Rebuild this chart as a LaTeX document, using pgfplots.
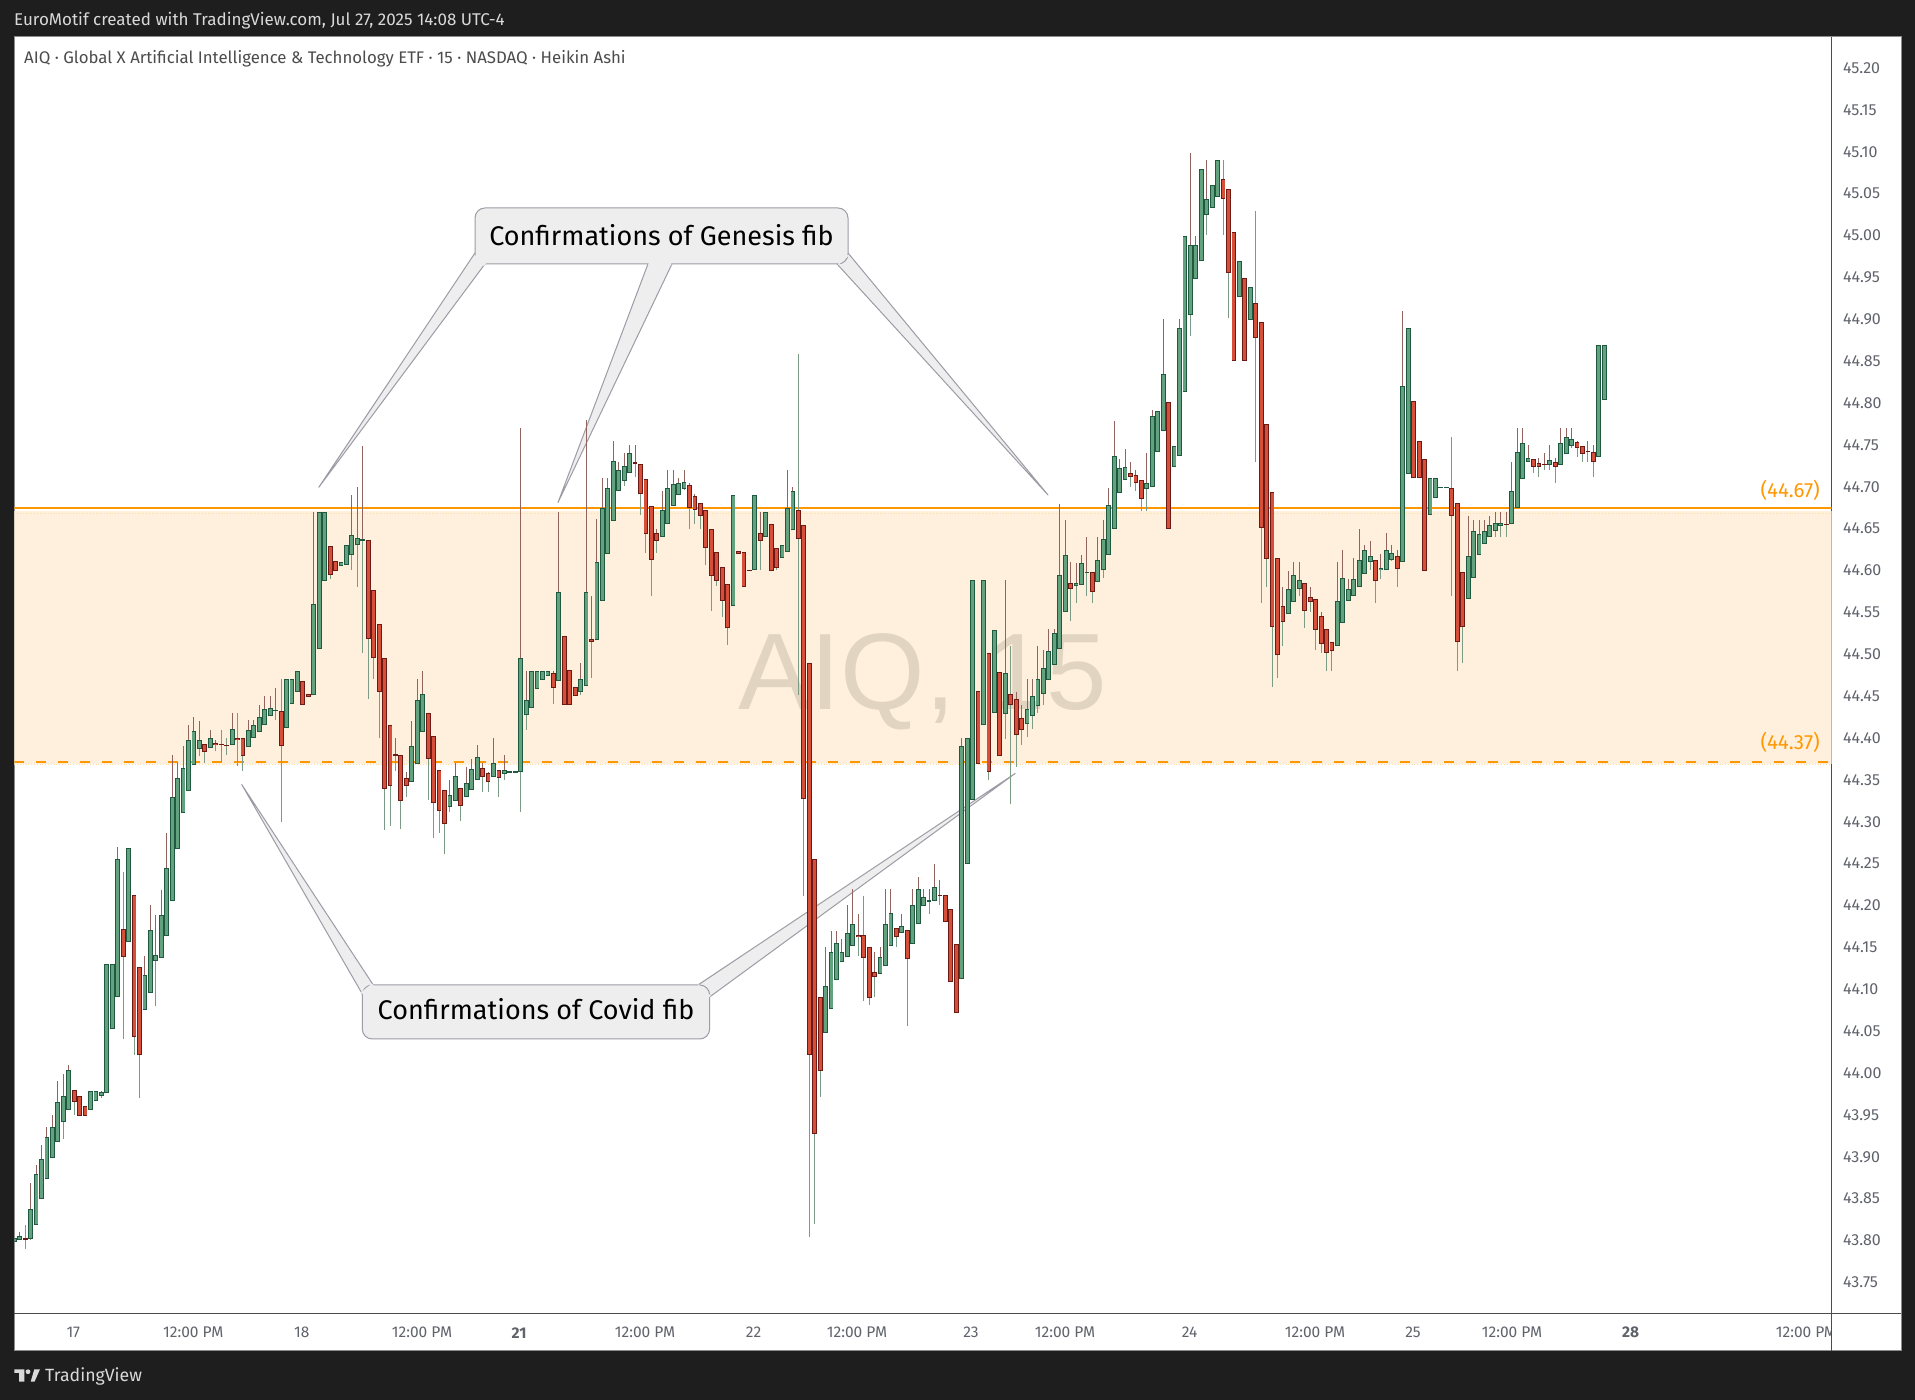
\documentclass[border=0pt]{standalone}
\usepackage{fontspec}
\setmainfont{Fira Sans}
\newfontfamily\wmfont{Liberation Sans}
\usepackage{pgfplots}
\usepackage{pgfplotstable}
\pgfplotsset{compat=1.18}

\definecolor{frame}{HTML}{1E1E1E}
\definecolor{gborder}{HTML}{1F5A40}
\definecolor{gfill}{HTML}{62A27F}
\definecolor{rborder}{HTML}{6E1A14}
\definecolor{rfill}{HTML}{D64F3A}
\definecolor{wbrown}{HTML}{93645F}
\definecolor{wgreen}{HTML}{7C9B87}
\definecolor{zone}{HTML}{FFF0DD}
\definecolor{fib}{HTML}{FF9800}
\definecolor{tick}{HTML}{60636C}
\definecolor{bub}{HTML}{EEEEEE}
\definecolor{bubline}{HTML}{9C9CA6}
\definecolor{wm}{HTML}{E1D4C1}

% i, body low, body high, wick low, wick high
\pgfplotstableread{
i lo hi wl wh
0 43.794 43.799 43.794 43.799
1 43.796 43.801 43.796 43.806
3 43.798 43.833 43.797 43.865
4 43.815 43.875 43.815 43.886
5 43.845 43.893 43.845 43.910
6 43.869 43.919 43.869 43.931
7 43.894 43.932 43.894 43.946
8 43.913 43.961 43.913 43.986
9 43.937 43.968 43.917 43.995
10 43.952 44.000 43.952 44.005
14 43.952 43.975 43.952 43.975
15 43.963 43.975 43.963 43.975
16 43.969 43.973 43.966 43.975
17 43.972 44.126 43.972 44.126
18 44.048 44.126 44.048 44.126
19 44.087 44.251 44.087 44.266
21 44.152 44.265 44.152 44.265
24 44.071 44.113 44.071 44.136
25 44.092 44.167 44.092 44.197
26 44.130 44.137 44.076 44.185
27 44.133 44.185 44.133 44.215
28 44.159 44.241 44.159 44.282
29 44.201 44.325 44.201 44.376
30 44.263 44.348 44.263 44.366
31 44.306 44.360 44.306 44.386
32 44.333 44.393 44.333 44.411
33 44.364 44.404 44.364 44.421
34 44.383 44.394 44.375 44.416
36 44.384 44.396 44.384 44.405
40 44.387 44.407 44.387 44.426
43 44.385 44.405 44.385 44.417
44 44.396 44.411 44.396 44.417
45 44.403 44.421 44.403 44.435
46 44.411 44.431 44.411 44.446
47 44.422 44.432 44.422 44.446
48 44.428 44.429 44.417 44.456
50 44.408 44.466 44.408 44.466
51 44.436 44.466 44.436 44.466
52 44.451 44.476 44.451 44.476
55 44.447 44.556 44.447 44.666
56 44.502 44.666 44.502 44.666
57 44.583 44.666 44.583 44.666
60 44.601 44.606 44.601 44.606
61 44.603 44.626 44.603 44.626
62 44.614 44.638 44.596 44.686
63 44.626 44.635 44.576 44.696
64 44.631 44.633 44.497 44.745
73 44.343 44.386 44.343 44.416
74 44.365 44.441 44.365 44.466
75 44.403 44.448 44.403 44.476
80 44.314 44.328 44.307 44.346
81 44.321 44.351 44.321 44.366
83 44.326 44.342 44.326 44.361
84 44.334 44.359 44.334 44.371
85 44.346 44.373 44.346 44.387
88 44.349 44.366 44.349 44.396
90 44.353 44.358 44.346 44.376
91 44.354 44.356 44.354 44.356
92 44.354 44.356 44.354 44.356
93 44.355 44.492 44.307 44.766
94 44.423 44.441 44.406 44.476
95 44.432 44.476 44.432 44.476
96 44.455 44.476 44.455 44.476
97 44.465 44.476 44.465 44.476
98 44.470 44.476 44.470 44.476
100 44.464 44.570 44.464 44.666
104 44.451 44.466 44.447 44.486
105 44.458 44.570 44.458 44.776
107 44.513 44.606 44.513 44.657
108 44.560 44.671 44.560 44.706
109 44.616 44.695 44.616 44.706
110 44.655 44.727 44.655 44.751
111 44.691 44.716 44.691 44.726
112 44.703 44.721 44.697 44.736
113 44.712 44.736 44.712 44.746
119 44.636 44.668 44.636 44.691
120 44.652 44.695 44.652 44.716
121 44.673 44.699 44.673 44.716
122 44.686 44.700 44.686 44.706
123 44.693 44.702 44.692 44.716
132 44.554 44.686 44.554 44.686
136 44.597 44.686 44.597 44.686
138 44.636 44.666 44.636 44.666
141 44.611 44.626 44.611 44.626
142 44.618 44.671 44.618 44.716
143 44.644 44.691 44.644 44.696
149 44.044 44.100 44.044 44.146
150 44.072 44.141 44.072 44.165
151 44.107 44.151 44.107 44.165
152 44.128 44.140 44.128 44.156
153 44.134 44.163 44.134 44.197
154 44.148 44.174 44.148 44.216
159 44.114 44.135 44.114 44.146
160 44.124 44.174 44.124 44.216
161 44.148 44.187 44.148 44.216
163 44.163 44.172 44.163 44.186
165 44.150 44.197 44.150 44.216
166 44.174 44.216 44.174 44.230
167 44.195 44.206 44.195 44.216
168 44.200 44.202 44.186 44.216
169 44.201 44.218 44.201 44.246
174 44.108 44.386 44.108 44.396
175 44.246 44.396 44.246 44.396
176 44.322 44.585 44.322 44.585
178 44.411 44.585 44.411 44.585
180 44.426 44.525 44.426 44.525
182 44.425 44.473 44.395 44.585
186 44.413 44.430 44.397 44.466
187 44.422 44.446 44.407 44.466
188 44.434 44.466 44.426 44.506
189 44.449 44.479 44.435 44.501
190 44.465 44.500 44.465 44.526
191 44.483 44.521 44.483 44.526
192 44.502 44.590 44.502 44.675
193 44.546 44.615 44.546 44.656
195 44.577 44.581 44.557 44.605
196 44.579 44.605 44.579 44.615
197 44.593 44.594 44.566 44.636
199 44.582 44.608 44.582 44.636
200 44.596 44.633 44.587 44.656
201 44.614 44.674 44.614 44.695
202 44.646 44.733 44.646 44.775
203 44.689 44.718 44.689 44.729
204 44.704 44.720 44.704 44.741
208 44.693 44.700 44.667 44.736
209 44.696 44.780 44.696 44.787
210 44.738 44.786 44.738 44.786
211 44.762 44.830 44.762 44.896
213 44.720 44.745 44.720 44.745
214 44.733 44.885 44.733 44.896
215 44.809 44.995 44.809 44.995
216 44.901 44.985 44.876 45.095
217 44.944 44.985 44.944 44.995
218 44.965 45.075 44.965 45.075
219 45.020 45.040 44.996 45.086
220 45.029 45.056 45.029 45.056
221 45.042 45.086 45.042 45.086
225 44.923 44.965 44.923 44.965
227 44.895 44.935 44.895 44.935
234 44.544 44.574 44.544 44.595
235 44.558 44.591 44.558 44.606
236 44.574 44.585 44.565 44.606
243 44.506 44.559 44.506 44.606
244 44.533 44.587 44.533 44.620
245 44.559 44.574 44.559 44.586
246 44.566 44.586 44.566 44.611
247 44.576 44.609 44.576 44.645
248 44.592 44.620 44.592 44.626
249 44.606 44.613 44.596 44.631
251 44.596 44.599 44.586 44.616
252 44.597 44.620 44.597 44.641
253 44.609 44.617 44.607 44.626
255 44.606 44.816 44.606 44.906
256 44.711 44.885 44.711 44.885
260 44.662 44.706 44.662 44.706
261 44.683 44.706 44.683 44.706
262 44.695 44.696 44.695 44.696
263 44.695 44.696 44.695 44.696
267 44.562 44.613 44.562 44.661
268 44.587 44.643 44.587 44.656
269 44.615 44.640 44.615 44.656
270 44.627 44.643 44.627 44.656
271 44.636 44.650 44.636 44.661
272 44.643 44.653 44.636 44.666
273 44.649 44.653 44.636 44.666
275 44.651 44.691 44.651 44.725
276 44.670 44.738 44.670 44.766
277 44.705 44.748 44.705 44.766
278 44.726 44.730 44.726 44.746
282 44.722 44.728 44.716 44.746
284 44.722 44.748 44.722 44.766
285 44.735 44.755 44.735 44.766
286 44.745 44.753 44.742 44.766
291 44.732 44.865 44.732 44.865
292 44.799 44.865 44.799 44.865
}\upbars

\pgfplotstableread{
i lo hi wl wh
2 43.797 43.799 43.786 43.815
11 43.961 43.976 43.946 43.976
12 43.945 43.968 43.945 43.968
13 43.945 43.957 43.945 43.957
20 44.135 44.168 44.037 44.236
22 44.039 44.209 44.017 44.209
23 44.018 44.123 43.966 44.123
35 44.379 44.389 44.366 44.389
37 44.387 44.390 44.381 44.394
38 44.387 44.389 44.367 44.405
39 44.386 44.388 44.376 44.396
41 44.393 44.396 44.362 44.426
42 44.374 44.396 44.356 44.396
49 44.386 44.428 44.296 44.466
53 44.435 44.464 44.435 44.464
54 44.445 44.449 44.445 44.449
58 44.590 44.625 44.586 44.625
59 44.595 44.607 44.595 44.607
65 44.514 44.632 44.442 44.632
66 44.491 44.573 44.466 44.573
67 44.451 44.532 44.396 44.532
68 44.335 44.491 44.286 44.491
69 44.339 44.412 44.291 44.412
70 44.375 44.377 44.356 44.396
71 44.321 44.376 44.287 44.376
72 44.339 44.348 44.326 44.355
76 44.371 44.426 44.322 44.426
77 44.318 44.398 44.276 44.398
78 44.309 44.358 44.282 44.358
79 44.293 44.334 44.257 44.334
82 44.315 44.336 44.297 44.336
86 44.349 44.360 44.332 44.366
87 44.343 44.354 44.332 44.355
89 44.348 44.358 44.326 44.358
99 44.456 44.474 44.436 44.476
101 44.435 44.518 44.435 44.518
102 44.435 44.477 44.435 44.477
103 44.446 44.457 44.446 44.457
106 44.511 44.514 44.467 44.566
114 44.723 44.725 44.707 44.746
115 44.687 44.723 44.662 44.723
116 44.640 44.705 44.617 44.705
117 44.609 44.673 44.566 44.673
118 44.631 44.641 44.617 44.646
124 44.671 44.698 44.646 44.700
125 44.668 44.685 44.651 44.687
126 44.661 44.677 44.646 44.677
127 44.623 44.668 44.602 44.668
128 44.589 44.646 44.547 44.646
129 44.583 44.618 44.577 44.618
130 44.560 44.600 44.541 44.600
131 44.527 44.580 44.507 44.580
133 44.616 44.619 44.616 44.619
134 44.576 44.618 44.576 44.618
135 44.596 44.597 44.596 44.597
137 44.631 44.641 44.596 44.666
139 44.595 44.652 44.595 44.652
140 44.599 44.623 44.596 44.623
144 44.634 44.668 44.447 44.855
145 44.323 44.650 44.207 44.650
146 44.018 44.486 43.800 44.486
147 43.923 44.252 43.816 44.252
148 43.998 44.087 43.967 44.087
155 44.158 44.161 44.136 44.186
156 44.133 44.161 44.082 44.207
157 44.085 44.146 44.077 44.146
158 44.111 44.116 44.087 44.141
162 44.158 44.169 44.146 44.169
164 44.132 44.167 44.052 44.167
170 44.208 44.209 44.197 44.226
171 44.176 44.209 44.176 44.209
172 44.105 44.192 44.105 44.192
173 44.067 44.150 44.067 44.150
177 44.365 44.452 44.365 44.452
179 44.355 44.497 44.346 44.497
181 44.375 44.475 44.375 44.475
183 44.435 44.449 44.317 44.506
184 44.399 44.442 44.361 44.451
185 44.405 44.420 44.387 44.435
194 44.574 44.581 44.536 44.606
198 44.570 44.594 44.557 44.594
205 44.708 44.712 44.696 44.725
206 44.700 44.710 44.691 44.716
207 44.681 44.704 44.667 44.704
212 44.645 44.797 44.645 44.797
222 45.040 45.064 44.996 45.086
223 44.951 45.052 44.897 45.052
224 44.846 45.000 44.846 45.000
226 44.846 44.945 44.846 44.945
228 44.873 44.915 44.726 45.025
229 44.647 44.893 44.557 44.893
230 44.610 44.771 44.576 44.771
231 44.529 44.690 44.457 44.690
232 44.495 44.611 44.467 44.611
233 44.535 44.553 44.506 44.576
237 44.548 44.581 44.527 44.581
238 44.558 44.564 44.546 44.576
239 44.525 44.562 44.501 44.562
240 44.508 44.542 44.497 44.546
241 44.498 44.526 44.476 44.526
242 44.500 44.511 44.476 44.511
250 44.583 44.609 44.557 44.609
254 44.598 44.613 44.576 44.620
257 44.706 44.798 44.706 44.798
258 44.706 44.751 44.706 44.751
259 44.595 44.729 44.595 44.729
264 44.661 44.695 44.566 44.755
265 44.510 44.677 44.476 44.677
266 44.528 44.594 44.486 44.594
274 44.651 44.652 44.636 44.666
279 44.720 44.729 44.712 44.729
280 44.720 44.724 44.707 44.730
281 44.722 44.723 44.716 44.736
283 44.719 44.725 44.701 44.730
287 44.742 44.749 44.731 44.750
288 44.735 44.745 44.725 44.745
289 44.737 44.739 44.725 44.750
290 44.725 44.738 44.707 44.746
}\downbars

% upper wicks that are green in the picture
\pgfplotstableread{
i hi wh
2 43.799 43.815
20 44.168 44.236
38 44.389 44.405
39 44.388 44.396
41 44.396 44.426
49 44.428 44.466
144 44.668 44.855
156 44.161 44.207
183 44.449 44.506
222 45.064 45.086
228 44.915 45.025
264 44.695 44.755
}\greenup

\newcommand{\px}[2]{(axis cs:{(#1-14.3)/5.445},{43.75+(1279-#2)/837.5})}

\newcommand{\wicks}[1]{
  \addplot[draw=none,mark=none,forget plot,error bars/.cd,y dir=plus,y explicit,error mark=none,
    error bar style={line width=1pt,color=wbrown}]
    table[x=i,y=hi,y error plus expr=\thisrow{wh}-\thisrow{hi}] {#1};
  \addplot[draw=none,mark=none,forget plot,error bars/.cd,y dir=minus,y explicit,error mark=none,
    error bar style={line width=1pt,color=wgreen}]
    table[x=i,y=lo,y error minus expr=\thisrow{lo}-\thisrow{wl}] {#1};
}
\newcommand{\bodies}[3]{
  \addplot[draw=none,mark=none,forget plot,error bars/.cd,y dir=plus,y explicit,error mark=none,
    error bar style={line width=4.8pt,color=#2}]
    table[x=i,y=lo,y error plus expr=\thisrow{hi}-\thisrow{lo}] {#1};
  \addplot[draw=none,mark=none,forget plot,error bars/.cd,y dir=plus,y explicit,error mark=none,
    error bar style={line width=3pt,color=#3}]
    table[x=i,y expr=\thisrow{lo}+0.0012,y error plus expr={max(\thisrow{hi}-\thisrow{lo}-0.0024,0)}] {#1};
}

\begin{document}
\begin{tikzpicture}[x=1pt,y=1pt]
\useasboundingbox (0,0) rectangle (1915,1400);
\fill[frame] (0,0) rectangle (1915,1400);
\fill[white,draw=black!45,line width=1pt] (14,49) rectangle (1901,1363);
\node[anchor=west,text=white!85!black,font=\fontsize{17}{17}\selectfont,inner sep=0pt] at (14,1379) {EuroMotif created with TradingView.com, Jul 27, 2025 14:08 UTC-4};

\begin{axis}[
  at={(14.3pt,86pt)},anchor=south west,
  scale only axis,width=1817.2pt,height=1277pt,
  xmin=0,xmax=333.74,ymin=43.7082,ymax=45.233,
  axis x line*=bottom,axis y line*=right,
  axis line style={color=black!70,line width=1pt,-},
  major tick length=0pt,
  xtick={10.84,32.87,52.78,74.88,92.69,115.83,135.76,154.77,175.70,192.97,215.85,238.88,256.88,275.06,296.86,329.05},
  xticklabels={17,12:00 PM,18,12:00 PM,\textbf{21},12:00 PM,22,12:00 PM,23,12:00 PM,24,12:00 PM,25,12:00 PM,\textbf{28},12:00 PM},
  ytick={43.75,43.80,43.85,43.90,43.95,44.00,44.05,44.10,44.15,44.20,44.25,44.30,44.35,44.40,44.45,44.50,44.55,44.60,44.65,44.70,44.75,44.80,44.85,44.90,44.95,45.00,45.05,45.10,45.15,45.20},
  /pgf/number format/assume math mode=true,
  /pgf/number format/fixed,/pgf/number format/fixed zerofill,/pgf/number format/precision=2,
  tick label style={text=tick},
  xticklabel style={font=\fontsize{15.5}{15.5}\selectfont,anchor=center,yshift=-18.7pt},
  yticklabel style={font=\fontsize{16}{16}\selectfont,anchor=west,xshift=8pt,yshift=-3.4pt},
]
% fib zone
\addplot[fill=zone,draw=none,forget plot] coordinates {(0,44.365)(333.74,44.365)(333.74,44.667)(0,44.667)} --cycle;
\addplot[color=fib!35,line width=0.8pt,dotted,forget plot] coordinates {(0,44.6645)(333.74,44.6645)};
\addplot[color=fib!35,line width=0.8pt,dotted,forget plot] coordinates {(0,44.3645)(333.74,44.3645)};
\addplot[color=fib,line width=2pt,forget plot] coordinates {(0,44.67)(333.74,44.67)};
\addplot[color=fib,line width=2pt,dash pattern=on 10pt off 12pt,forget plot] coordinates {(0,44.367)(333.74,44.367)};

\node[anchor=base,text=wm,font=\wmfont\fontsize{108.7}{108.7}\selectfont,inner sep=0pt] at \px{922.5}{710} {AIQ, 15};

% callout tails
\begin{scope}[fill=bub,draw=bubline,line width=1pt,line join=round]
\filldraw \px{475}{253} -- \px{318.8}{487.3} -- \px{485}{264} -- cycle;
\filldraw \px{648}{264} -- \px{558}{502.5} -- \px{672}{264} -- cycle;
\filldraw \px{837}{264} -- \px{1048}{495} -- \px{848}{253} -- cycle;
\filldraw \px{362.3}{994} -- \px{241.7}{784.5} -- \px{373.3}{985} -- cycle;
\filldraw \px{698}{985} -- \px{1015.3}{773.4} -- \px{709.6}{997} -- cycle;
\filldraw[rounded corners=10pt] \px{475}{208} rectangle \px{848}{264};
\filldraw[rounded corners=10pt] \px{362.3}{985} rectangle \px{709.6}{1039};
\fill[draw=none] \px{477}{254} -- \px{472}{259} -- \px{484}{266} -- \px{487}{262} -- cycle;
\fill[draw=none] \px{649}{262} -- \px{648}{265.5} -- \px{671.5}{265.5} -- \px{671}{262} -- cycle;
\fill[draw=none] \px{839}{262} -- \px{838}{265.5} -- \px{849.5}{255} -- \px{846}{255} -- cycle;
\fill[draw=none] \px{364}{995} -- \px{360.8}{992.5} -- \px{372}{983.5} -- \px{375}{987} -- cycle;
\fill[draw=none] \px{699}{987} -- \px{697.5}{983.5} -- \px{711}{996} -- \px{708}{998} -- cycle;
\end{scope}

\wicks{\upbars}
\wicks{\downbars}
\addplot[draw=none,mark=none,forget plot,error bars/.cd,y dir=plus,y explicit,error mark=none,
  error bar style={line width=1pt,color=wgreen}]
  table[x=i,y=hi,y error plus expr=\thisrow{wh}-\thisrow{hi}] {\greenup};
\bodies{\upbars}{gborder}{gfill}
\bodies{\downbars}{rborder}{rfill}

\node[text=black,font=\fontsize{27}{27}\selectfont,inner sep=0pt] at \px{661.5}{235} {Confirmations of Genesis fib};
\node[text=black,font=\fontsize{27}{27}\selectfont,inner sep=0pt] at \px{536}{1009} {Confirmations of Covid fib};
\node[anchor=west,text=black!70,font=\fontsize{16.8}{16.8}\selectfont,inner sep=0pt] at \px{24}{58.5} {AIQ · Global X Artificial Intelligence \& Technology ETF · 15 · NASDAQ · Heikin Ashi};
\node[anchor=east,text=fib,font=\fontsize{20.5}{20.5}\selectfont,inner sep=0pt] at \px{1820}{490} {(44.67)};
\node[anchor=east,text=fib,font=\fontsize{20.5}{20.5}\selectfont,inner sep=0pt] at \px{1820}{742} {(44.37)};
\end{axis}

% corner below the price scale hides the end of the last time label
\fill[white] (1832,49.5) rectangle (1900.5,85.5);
\draw[black!70,line width=1pt] (1831.5,86) -- (1831.5,49);
\draw[black!70,line width=1pt] (1831.5,86) -- (1901,86);

% footer logo and name
\fill[white!85!black] (14.3,30.7) -- (24.3,30.7) -- (24.3,18.3) -- (19,18.3) -- (19,27) -- (14.3,27) -- cycle;
\fill[white!85!black] (28,28.3) circle (2.4);
\fill[white!85!black] (30.7,18.3) -- (34.3,30.7) -- (40,30.7) -- (34.5,18.3) -- cycle;
\node[anchor=west,text=white!85!black,font=\fontsize{17.7}{17.7}\selectfont,inner sep=0pt] at (45,24) {TradingView};
\end{tikzpicture}
\end{document}
